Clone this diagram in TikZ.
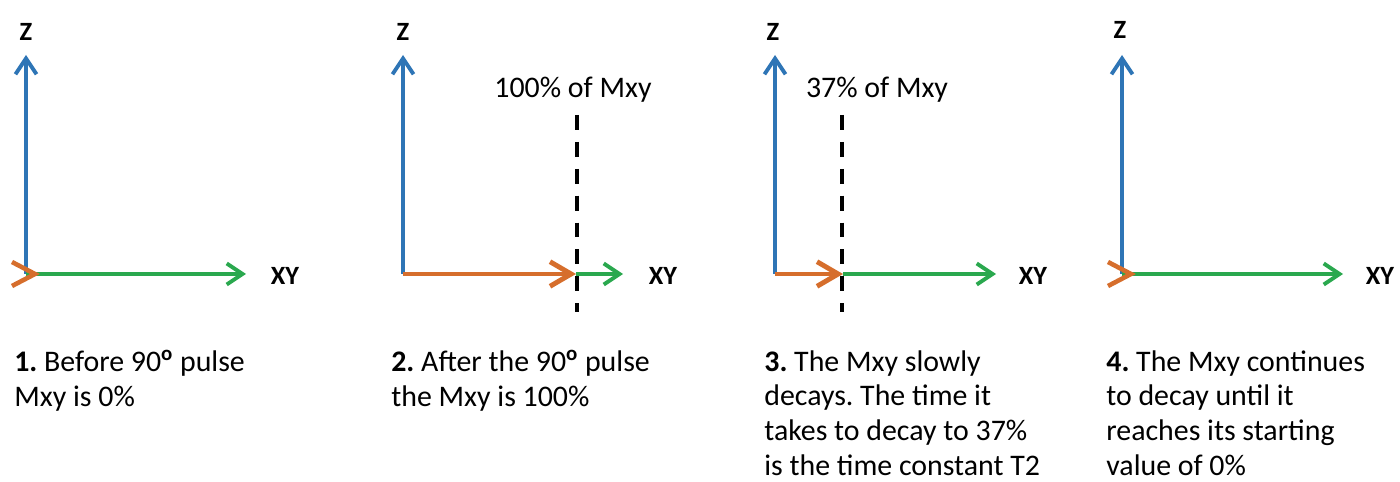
\documentclass[tikz,border=0pt]{standalone}
\usepackage{fontspec}
\setmainfont{Carlito}
\usepackage{xcolor}
\usepackage{tikz}
\usetikzlibrary{arrows.meta}
\frenchspacing

\definecolor{zblue}{RGB}{46,117,182}
\definecolor{xygreen}{RGB}{42,168,78}
\definecolor{mxyorange}{RGB}{214,110,44}
\newcommand{\degsign}{\textsuperscript{\bfseries o}}

\begin{document}
\begin{tikzpicture}[
    x=0.02cm, y=-0.02cm,
    zaxis/.style={draw=zblue, line width=2.2pt, -{Straight Barb[length=9pt, width=12pt]}},
    xyaxis/.style={draw=xygreen, line width=2.2pt, -{Straight Barb[length=9pt, width=12pt]}},
    mxy/.style={draw=mxyorange, line width=2.8pt, -{Straight Barb[length=12pt, width=14pt]}},
    mxyzero/.style={draw=mxyorange, line width=2.6pt},
    level/.style={draw=black, line width=2.3pt, dash pattern=on 8.5pt off 6.8pt},
    axislabel/.style={font=\fontsize{15}{18}\selectfont\bfseries, inner sep=0pt},
    levellabel/.style={font=\fontsize{17}{20}\selectfont, inner sep=0pt},
    caption/.style={font=\fontsize{17}{19.8}\selectfont, align=left, anchor=north west, inner sep=0pt}
]
\useasboundingbox (0,0) rectangle (1400,482);

% Panel 1
\coordinate (o1) at (26,274);
\coordinate (zt1) at (26,55);
\coordinate (xt1) at (246,274);
\node[axislabel] (z1) at (26,32) {Z};
\node[axislabel] (xy1) at (285,276) {XY};
\draw[zaxis] (o1) -- (zt1);
\draw[xyaxis] (o1) -- (xt1);
\draw[mxyzero] (o1) ++(-14,-12) -- ++(23,12) -- ++(-23,12);
\node[caption] (cap1) at (14,350) {\textbf{1.} Before 90\degsign\ pulse\\Mxy is 0\%};

% Panel 2
\coordinate (o2) at (403,274);
\coordinate (zt2) at (403,55);
\coordinate (m2) at (576,274);
\coordinate (xt2) at (623,274);
\coordinate (d2a) at (577,115);
\coordinate (d2b) at (577,312);
\node[axislabel] (z2) at (403,32) {Z};
\node[axislabel] (xy2) at (663,276) {XY};
\node[levellabel] (lv2) at (573,90) {100\% of Mxy};
\draw[zaxis] (o2) -- (zt2);
\draw[xyaxis] (m2) -- (xt2);
\draw[mxy] (o2) -- (m2);
\draw[level] (d2a) -- (d2b);
\node[caption] (cap2) at (391,350) {\textbf{2.} After the 90\degsign\ pulse\\the Mxy is 100\%};

% Panel 3
\coordinate (o3) at (775,274);
\coordinate (zt3) at (775,55);
\coordinate (m3) at (843,274);
\coordinate (xt3) at (996,274);
\coordinate (d3a) at (842,115);
\coordinate (d3b) at (842,312);
\node[axislabel] (z3) at (773,32) {Z};
\node[axislabel] (xy3) at (1033,276) {XY};
\node[levellabel] (lv3) at (877,90) {37\% of Mxy};
\draw[zaxis] (o3) -- (zt3);
\draw[xyaxis] (m3) -- (xt3);
\draw[mxy] (o3) -- (m3);
\draw[level] (d3a) -- (d3b);
\node[caption] (cap3) at (764,350) {\textbf{3.} The Mxy slowly\\decays. The time it\\takes to decay to 37\%\\is the time constant T2};

% Panel 4
\coordinate (o4) at (1122,274);
\coordinate (zt4) at (1122,55);
\coordinate (xt4) at (1343,274);
\node[axislabel] (z4) at (1120,30) {Z};
\node[axislabel] (xy4) at (1380,276) {XY};
\draw[zaxis] (o4) -- (zt4);
\draw[xyaxis] (o4) -- (xt4);
\draw[mxyzero] (o4) ++(-14,-12) -- ++(23,12) -- ++(-23,12);
\node[caption] (cap4) at (1106,350) {\textbf{4.} The Mxy continues\\to decay until it\\reaches its starting\\value of 0\%};

\end{tikzpicture}
\end{document}
